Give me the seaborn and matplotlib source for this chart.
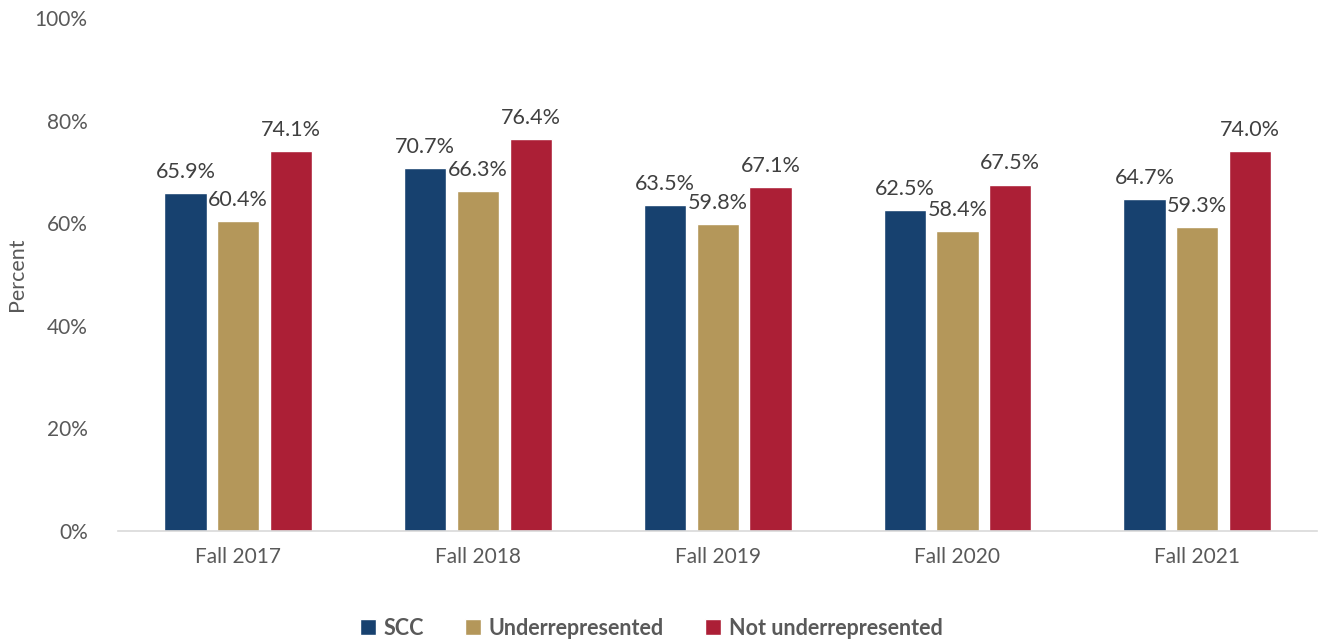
import pandas as pd
import seaborn as sns
import matplotlib.pyplot as plt
from matplotlib.ticker import PercentFormatter

terms = ["Fall 2017", "Fall 2018", "Fall 2019", "Fall 2020", "Fall 2021"]
groups = ["SCC", "Underrepresented", "Not underrepresented"]
scc = [65.9, 70.7, 63.5, 62.5, 64.7]
under = [60.4, 66.3, 59.8, 58.4, 59.3]
not_under = [74.1, 76.4, 67.1, 67.5, 74.0]
colors = ["#17416F", "#B4975A", "#AC1F36"]

rows = []
for i, t in enumerate(terms):
    for g, vals in zip(groups, [scc, under, not_under]):
        rows.append({"Term": t, "Group": g, "Value": vals[i]})
df = pd.DataFrame(rows)

sns.set_style("white")
plt.rcParams["font.family"] = ["Lato", "DejaVu Sans"]
txt = "#595959"

fig, ax = plt.subplots(figsize=(13.29, 6.41), dpi=100)
fig.subplots_adjust(left=0.089, right=0.991, top=0.972, bottom=0.172)

sns.barplot(data=df, x="Term", y="Value", hue="Group", palette=colors,
            width=0.66, gap=0.2, ax=ax, saturation=1, legend=True)

for cont in ax.containers:
    ax.bar_label(cont, labels=[f"{v:.1f}%" for v in cont.datavalues],
                 padding=8, fontsize=15.5, color="#404040")

ax.set_ylim(0, 100)
ax.set_xlim(-0.5, 4.5)
ax.set_yticks(range(0, 101, 20))
ax.yaxis.set_major_formatter(PercentFormatter(decimals=0))
ax.set_xlabel("")
ax.set_ylabel("Percent", fontsize=15.5, color=txt)
ax.yaxis.set_label_coords(-0.076, 0.5)
ax.tick_params(axis="both", labelsize=15, colors=txt, length=0)
ax.tick_params(axis="x", pad=12)
ax.tick_params(axis="y", pad=22)
for s in ["top", "right", "left"]:
    ax.spines[s].set_visible(False)
ax.spines["bottom"].set_color("#D9D9D9")
ax.spines["bottom"].set_linewidth(1.2)

handles, labels = ax.get_legend_handles_labels()
ax.get_legend().remove()
leg = fig.legend(handles, labels, loc="center", bbox_to_anchor=(0.49, 0.02),
                 ncol=3, frameon=False, handlelength=0.75, handleheight=0.75,
                 handletextpad=0.35, columnspacing=1.9,
                 prop={"size": 15.5, "weight": "bold"})
for t in leg.get_texts():
    t.set_color(txt)

fig.savefig("out.png", dpi=100)
